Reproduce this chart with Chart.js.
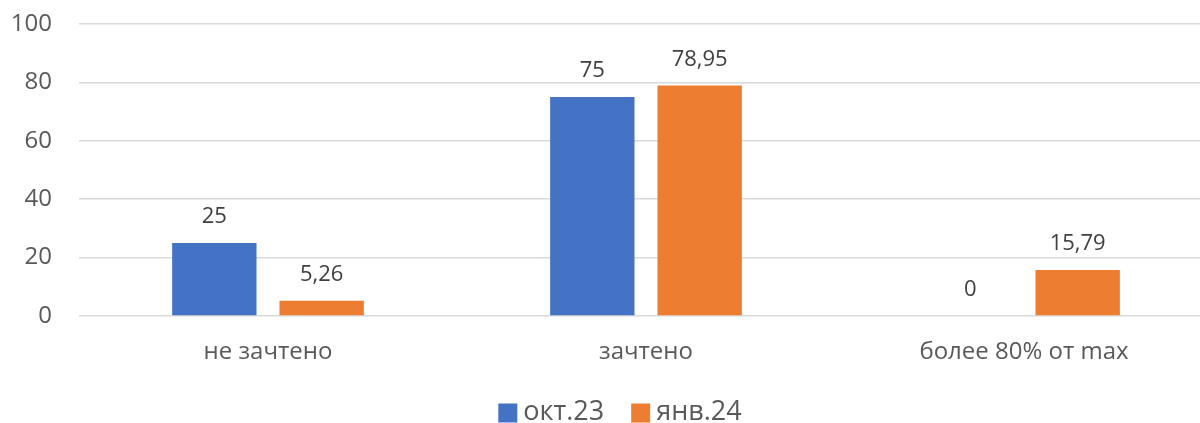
<!DOCTYPE html>
<html>
<head>
<meta charset="utf-8">
<script src="https://cdn.jsdelivr.net/npm/chart.js@4"></script>
<style>
  html, body { margin: 0; padding: 0; background: #ffffff; overflow: hidden; width: 1200px; height: 423px; }
  #wrap { width: 1240px; height: 423px; position: relative; }
</style>
</head>
<body>
<div id="wrap"><canvas id="c"></canvas></div>
<script>
const categories = ['не зачтено', 'зачтено', 'более 80% от max'];
const seriesNames = ['окт.23', 'янв.24'];
const oct23 = [25, 75, 0];
const jan24 = [5.26, 78.95, 15.79];
const yTicks = [0, 20, 40, 60, 80, 100];
const seriesColors = ['#4472C4', '#ED7D31'];

const FONT = '"Open Sans", "DejaVu Sans", sans-serif';

const dataLabels = {
  id: 'dataLabels',
  afterDatasetsDraw(chart) {
    const ctx = chart.ctx;
    ctx.save();
    ctx.font = '22px ' + FONT;
    ctx.fillStyle = '#404040';
    ctx.textAlign = 'center';
    ctx.textBaseline = 'middle';
    chart.data.datasets.forEach((ds, di) => {
      const meta = chart.getDatasetMeta(di);
      meta.data.forEach((el, i) => {
        const v = ds.data[i];
        ctx.fillText(String(v).replace('.', ','), el.x, el.y - 26);
      });
    });
    ctx.restore();
  }
};

const customLegend = {
  id: 'customLegend',
  afterDraw(chart) {
    const ctx = chart.ctx;
    ctx.save();
    ctx.font = '27px ' + FONT;
    ctx.textBaseline = 'middle';
    const box = 19, gapText = 6, gapItem = 27;
    const items = chart.data.datasets.map(ds => ({ label: ds.label, color: ds.backgroundColor, w: ctx.measureText(ds.label).width }));
    let total = 0;
    items.forEach((it, i) => { total += box + gapText + it.w + (i < items.length - 1 ? gapItem : 0); });
    let x = chart.width / 2 - total / 2;
    const cy = 412;
    items.forEach(it => {
      ctx.fillStyle = it.color;
      ctx.fillRect(x, cy - box / 2 + 1, box, box);
      x += box + gapText;
      ctx.fillStyle = '#595959';
      ctx.textAlign = 'left';
      ctx.fillText(it.label, x, cy);
      x += it.w + gapItem;
    });
    ctx.restore();
  }
};

new Chart(document.getElementById('c'), {
  type: 'bar',
  data: {
    labels: categories,
    datasets: [
      { label: seriesNames[0], data: oct23, backgroundColor: seriesColors[0], categoryPercentage: 0.568, barPercentage: 0.786 },
      { label: seriesNames[1], data: jan24, backgroundColor: seriesColors[1], categoryPercentage: 0.568, barPercentage: 0.786 }
    ]
  },
  options: {
    responsive: true,
    maintainAspectRatio: false,
    animation: false,
    layout: { padding: { top: 24, right: 27, bottom: 0, left: 0 } },
    plugins: { legend: { display: false }, tooltip: { enabled: false } },
    scales: {
      x: {
        grid: { display: false, drawTicks: false },
        border: { display: false },
        ticks: { color: '#595959', font: { family: FONT, size: 24 }, padding: 22 },
        afterFit(scale) { scale.height = 107; scale.paddingLeft = 0; scale.paddingRight = 0; }
      },
      y: {
        min: 0, max: 100,
        afterBuildTicks(scale) { scale.ticks = yTicks.map(v => ({ value: v })); },
        grid: { color: '#D9D9D9', lineWidth: 1.5, drawTicks: false },
        border: { display: false },
        ticks: { color: '#595959', font: { family: FONT, size: 24 }, padding: 27 },
        afterFit(scale) { scale.width = 79; scale.paddingTop = 0; scale.paddingBottom = 0; }
      }
    }
  },
  plugins: [dataLabels, customLegend]
});
</script>
</body>
</html>
